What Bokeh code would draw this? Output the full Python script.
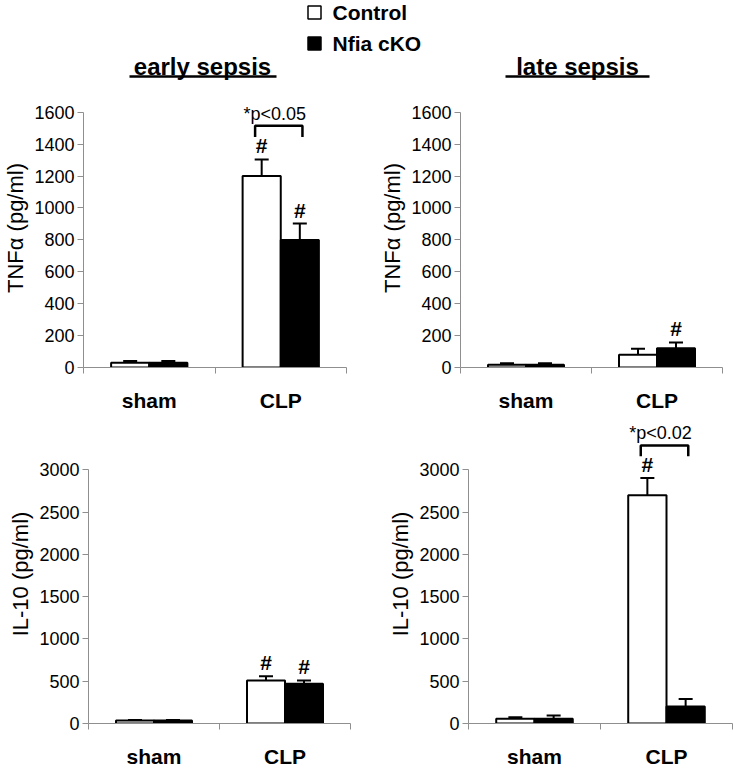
from bokeh.plotting import figure
from bokeh.models import Range1d, FixedTicker, ColumnDataSource, Whisker, TeeHead
from bokeh.layouts import column, row
from bokeh.embed import file_html
from bokeh.resources import INLINE
from bokeh.core.properties import value

FONT = "Liberation Sans"

# ---------------- data ----------------
groups = ["sham", "CLP"]
series = ["Control", "Nfia cKO"]

tnf_ticks = [0, 200, 400, 600, 800, 1000, 1200, 1400, 1600]
il10_ticks = [0, 500, 1000, 1500, 2000, 2500, 3000]

# TNF-alpha, early sepsis
tnf_early_ctrl = [30, 1200]
tnf_early_ctrl_err = [10, 104]
tnf_early_ko = [30, 800]
tnf_early_ko_err = [10, 102]
tnf_early_hash_ctrl = [False, True]
tnf_early_hash_ko = [False, True]

# TNF-alpha, late sepsis
tnf_late_ctrl = [18, 80]
tnf_late_ctrl_err = [8, 38]
tnf_late_ko = [18, 120]
tnf_late_ko_err = [8, 37]
tnf_late_hash_ctrl = [False, False]
tnf_late_hash_ko = [False, True]

# IL-10, early sepsis
il10_early_ctrl = [35, 510]
il10_early_ctrl_err = [5, 50]
il10_early_ko = [35, 470]
il10_early_ko_err = [5, 40]
il10_early_hash_ctrl = [False, True]
il10_early_hash_ko = [False, True]

# IL-10, late sepsis
il10_late_ctrl = [55, 2700]
il10_late_ctrl_err = [20, 205]
il10_late_ko = [55, 200]
il10_late_ko_err = [40, 90]
il10_late_hash_ctrl = [False, True]
il10_late_hash_ko = [False, False]

# significance brackets: (group, bracket level, drop, label)
tnf_early_sig = ("CLP", 1515, 70, "*p<0.05")
il10_late_sig = ("CLP", 3290, 130, "*p<0.02")

BAR_W = 0.29
OFF = 0.145


def style_axes(p, ticks, ylabel):
    ya = p.yaxis[0]
    ya.ticker = FixedTicker(ticks=ticks)
    ya.bounds = (ticks[0], ticks[-1])
    ya.axis_line_color = "#8f8f8f"
    ya.major_tick_line_color = "#8f8f8f"
    ya.minor_tick_line_color = None
    ya.major_tick_out = 6
    ya.major_tick_in = 0
    ya.major_label_standoff = 3
    ya.major_label_text_font = FONT
    ya.major_label_text_font_size = "18px"
    ya.major_label_text_color = "black"
    ya.axis_label = ylabel
    ya.axis_label_text_font = FONT
    ya.axis_label_text_font_size = "22px"
    ya.axis_label_text_font_style = "normal"
    ya.axis_label_text_color = "black"
    ya.axis_label_standoff = 3

    xa = p.xaxis[0]
    xa.ticker = FixedTicker(ticks=[0.5, 1.5], minor_ticks=[0, 1, 2])
    xa.major_label_overrides = {0.5: groups[0], 1.5: groups[1]}
    xa.axis_line_color = "#8f8f8f"
    xa.major_tick_line_color = None
    xa.major_tick_out = 0
    xa.major_tick_in = 0
    xa.minor_tick_line_color = "#8f8f8f"
    xa.minor_tick_out = 6
    xa.minor_tick_in = 0
    xa.major_label_standoff = 15
    xa.major_label_text_font = FONT
    xa.major_label_text_font_size = "21px"
    xa.major_label_text_font_style = "bold"
    xa.major_label_text_color = "black"

    p.xgrid.visible = False
    p.ygrid.visible = False
    p.outline_line_color = None


def panel(width, height, yend, ticks, ylabel, ctrl, ctrl_err, ko, ko_err,
          hash_ctrl, hash_ko, sig, borders):
    p = figure(width=width, height=height, x_range=Range1d(0, 2),
               y_range=Range1d(0, yend), toolbar_location=None,
               output_backend="svg",
               min_border_left=borders[0], min_border_right=borders[1],
               min_border_top=borders[2], min_border_bottom=borders[3])
    style_axes(p, ticks, ylabel)

    xc = [i + 0.5 - OFF for i in range(len(groups))]
    xk = [i + 0.5 + OFF for i in range(len(groups))]

    p.vbar(x=xc, top=ctrl, bottom=0, width=BAR_W, fill_color="white",
           line_color="black", line_width=2)
    p.vbar(x=xk, top=ko, bottom=0, width=BAR_W, fill_color="black",
           line_color="black", line_width=2)

    for xs, m, e in ((xc, ctrl, ctrl_err), (xk, ko, ko_err)):
        src = ColumnDataSource(dict(x=xs,
                                    upper=[a + b for a, b in zip(m, e)],
                                    lower=[a - b for a, b in zip(m, e)]))
        w = Whisker(source=src, base="x", upper="upper", lower="lower",
                    line_color="black", line_width=2,
                    upper_head=TeeHead(size=14, line_width=2, line_color="black"),
                    lower_head=TeeHead(size=14, line_width=2, line_color="black"))
        p.add_layout(w)

    hx, hy = [], []
    for xs, m, e, flags in ((xc, ctrl, ctrl_err, hash_ctrl), (xk, ko, ko_err, hash_ko)):
        for x, a, b, f in zip(xs, m, e, flags):
            if f:
                hx.append(x)
                hy.append(a + b)
    if hx:
        p.text(x=hx, y=hy, text=["#"] * len(hx), text_font=value(FONT),
               text_font_size="21px", text_font_style="bold",
               text_align="center", text_baseline="bottom", y_offset=-2,
               text_color="black")

    if sig is not None:
        g, level, drop, label = sig
        gi = groups.index(g)
        x0 = gi + 0.5 - OFF - 0.05
        x1 = gi + 0.5 + OFF + 0.02
        p.line(x=[x0, x0, x1, x1], y=[level - drop, level, level, level - drop],
               line_color="black", line_width=2.5)
        p.text(x=[(x0 + x1) / 2 - 0.03], y=[level], text=[label],
               text_font=value(FONT), text_font_size="18px",
               text_align="center", text_baseline="bottom", y_offset=-2,
               text_color="black")
    return p


# ---------------- header: legend + panel titles ----------------
hdr = figure(width=733, height=80, x_range=Range1d(0, 733), y_range=Range1d(80, 0),
             x_axis_type=None, y_axis_type=None, toolbar_location=None,
             output_backend="svg", min_border=0, outline_line_color=None)
hdr.xgrid.visible = False
hdr.ygrid.visible = False
hdr.scatter(x=[314, 314], y=[12, 43], marker="square", size=13,
            fill_color=["white", "black"], line_color="black", line_width=1.5)
hdr.text(x=[332, 332], y=[12, 43], text=series, text_font=value(FONT),
         text_font_size="21px", text_font_style="bold", text_baseline="middle",
         text_color="black")
titles = ["early sepsis", "late sepsis"]
hdr.text(x=[202, 577], y=[66, 66], text=titles, text_font=value(FONT),
         text_font_size="24px", text_font_style="bold", text_align="center",
         text_baseline="alphabetic", text_color="black")
hdr.segment(x0=[129, 505], y0=[76, 76], x1=[276, 649], y1=[76, 76],
            line_color="black", line_width=2.5)

# ---------------- panels ----------------
p1 = panel(367, 334, 1749, tnf_ticks, "TNFα (pg/ml)",
           tnf_early_ctrl, tnf_early_ctrl_err, tnf_early_ko, tnf_early_ko_err,
           tnf_early_hash_ctrl, tnf_early_hash_ko, tnf_early_sig, (82, 21, 8, 45))
p2 = panel(366, 334, 1749, tnf_ticks, "TNFα (pg/ml)",
           tnf_late_ctrl, tnf_late_ctrl_err, tnf_late_ko, tnf_late_ko_err,
           tnf_late_hash_ctrl, tnf_late_hash_ko, None, (93, 11, 8, 45))
p3 = panel(367, 356, 3537, il10_ticks, "IL-10 (pg/ml)",
           il10_early_ctrl, il10_early_ctrl_err, il10_early_ko, il10_early_ko_err,
           il10_early_hash_ctrl, il10_early_hash_ko, None, (88, 17, 10, 43))
p4 = panel(366, 356, 3537, il10_ticks, "IL-10 (pg/ml)",
           il10_late_ctrl, il10_late_ctrl_err, il10_late_ko, il10_late_ko_err,
           il10_late_hash_ctrl, il10_late_hash_ko, il10_late_sig, (101, 1, 10, 43))

layout = column(hdr, row(p1, p2), row(p3, p4))

with open("out.html", "w") as f:
    f.write(file_html(layout, INLINE))
